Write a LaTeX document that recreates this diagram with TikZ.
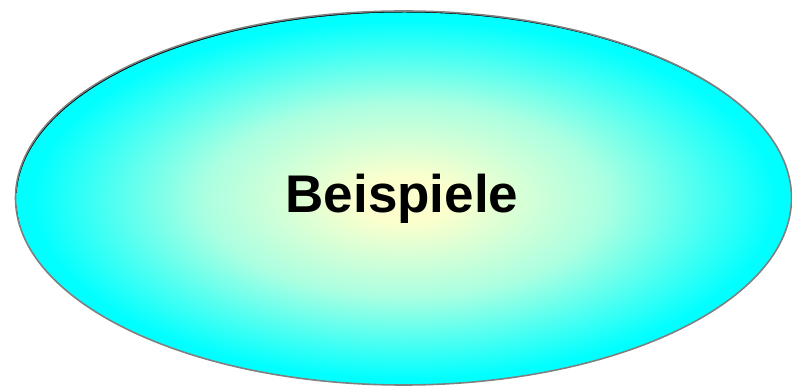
\documentclass[tikz,border=0pt]{standalone}
\usepackage{fontspec}
\setmainfont{Liberation Sans}
\definecolor{centre}{RGB}{252,255,205}
\definecolor{midtone}{RGB}{170,255,225}
\definecolor{edgecyan}{RGB}{0,255,255}
\definecolor{rim}{RGB}{128,128,128}
\pgfdeclareradialshading{ovalshade}{\pgfpoint{0bp}{0bp}}{%
  color(0bp)=(centre); color(3bp)=(centre); color(13bp)=(midtone); color(24bp)=(edgecyan); color(25bp)=(edgecyan); color(50bp)=(edgecyan)}
\tikzset{
  oval/.style={ellipse, minimum width=776pt, minimum height=374pt, inner sep=0pt},
  label/.style={font=\bfseries\fontsize{53}{62}\selectfont}
}
\usetikzlibrary{shapes.geometric}
\begin{document}
\begin{tikzpicture}[x=1pt,y=1pt]
\useasboundingbox (0,0) rectangle (792,388);
\fill[black] (403.5,190) ellipse [x radius=388, y radius=187];
\begin{scope}
  \clip (403.5,190) ellipse [x radius=388, y radius=187];
  \shade[shading=ovalshade] (404.5,188.5) ellipse [x radius=388, y radius=187];
\end{scope}
\node[oval, draw=rim, line width=1.6pt] (b) at (403.5,190) {};
\node[label, anchor=base] (t) at (402,175.5) {Beispiele};
\end{tikzpicture}
\end{document}
